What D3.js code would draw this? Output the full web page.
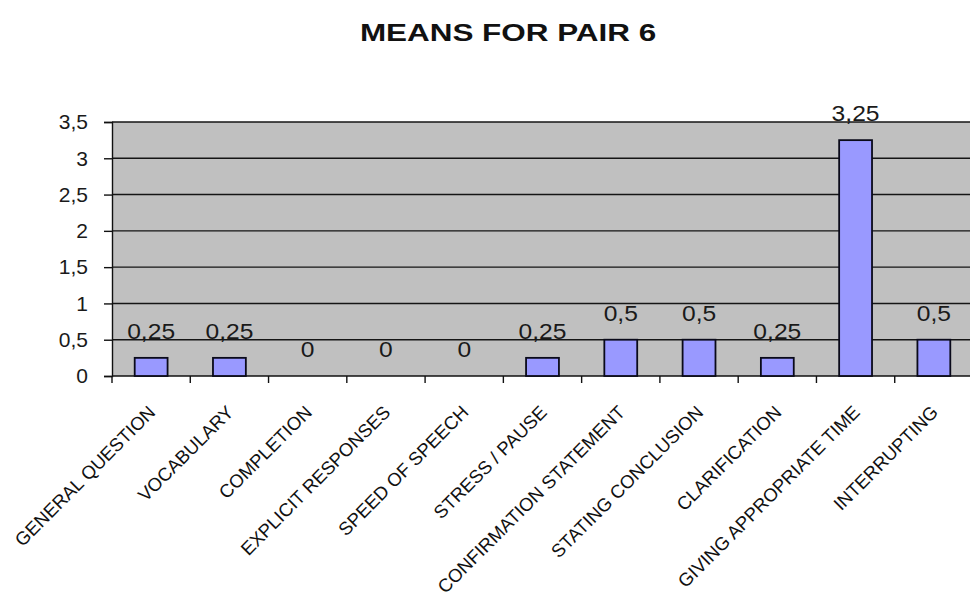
<!DOCTYPE html>
<html>
<head>
<meta charset="utf-8">
<script src="https://cdn.jsdelivr.net/npm/d3@7"></script>
<style>
  html, body { margin: 0; padding: 0; background: #fff; }
  svg { display: block; font-family: "Liberation Sans", Arial, sans-serif; }
</style>
</head>
<body>
<svg id="chart" width="970" height="614"></svg>
<script>
const title = "MEANS FOR PAIR 6";
const categories = [
  "GENERAL QUESTION", "VOCABULARY", "COMPLETION", "EXPLICIT RESPONSES",
  "SPEED OF SPEECH", "STRESS / PAUSE", "CONFIRMATION STATEMENT",
  "STATING CONCLUSION", "CLARIFICATION", "GIVING APPROPRIATE TIME", "INTERRUPTING"
];
const values = [0.25, 0.25, 0, 0, 0, 0.25, 0.5, 0.5, 0.25, 3.25, 0.5];
const yTicks = [0, 0.5, 1, 1.5, 2, 2.5, 3, 3.5];

const fmt = v => String(v).replace(".", ",");

const svg = d3.select("#chart");
const pL = 112, pR = 973, pT = 122, pB = 376;

const x = d3.scaleBand().domain(categories).range([pL, pR]).padding(0);
const y = d3.scaleLinear().domain([0, 3.5]).range([pB, pT]);

// plot background
svg.append("rect")
  .attr("x", pL).attr("y", pT)
  .attr("width", pR - pL).attr("height", pB - pT)
  .attr("fill", "#c0c0c0");

// gridlines
svg.append("g").selectAll("line").data(yTicks.filter(t => t > 0)).join("line")
  .attr("x1", pL).attr("x2", pR)
  .attr("y1", d => y(d)).attr("y2", d => y(d))
  .attr("stroke", "#151515").attr("stroke-width", 1.4);

// y axis
const yAxis = d3.axisLeft(y).tickValues(yTicks).tickFormat(fmt).tickSize(8).tickPadding(16);
const gy = svg.append("g").attr("transform", `translate(${pL},0)`).call(yAxis);
gy.select(".domain").attr("stroke", "#111").attr("stroke-width", 1.4);
gy.selectAll(".tick line").attr("stroke", "#111").attr("stroke-width", 1.4);
gy.selectAll(".tick text").attr("font-size", 21).attr("fill", "#1a1a1a")
  .attr("font-family", "'Liberation Sans', Arial, sans-serif");

// x axis (ticks at category boundaries)
const boundaries = categories.map(c => x(c)).concat([pR]);
const gx = svg.append("g");
gx.append("line").attr("x1", pL).attr("x2", pR)
  .attr("y1", pB).attr("y2", pB)
  .attr("stroke", "#111").attr("stroke-width", 1.6);
gx.selectAll("line.t").data(boundaries).join("line").attr("class", "t")
  .attr("x1", d => d).attr("x2", d => d)
  .attr("y1", pB).attr("y2", pB + 7)
  .attr("stroke", "#111").attr("stroke-width", 1.4);

const rows = values.map((v, i) => ({c: categories[i], v}));

// bars
const barFrac = 0.42;
svg.append("g").selectAll("rect").data(rows.filter(d => d.v > 0)).join("rect")
  .attr("x", d => x(d.c) + x.bandwidth() * (1 - barFrac) / 2)
  .attr("width", x.bandwidth() * barFrac)
  .attr("y", d => y(d.v))
  .attr("height", d => y(0) - y(d.v))
  .attr("fill", "#9999ff")
  .attr("stroke", "#0a0a1a")
  .attr("stroke-width", 1.8);

// value labels
svg.append("g").selectAll("text").data(rows).join("text")
  .attr("transform", d => `translate(${x(d.c) + x.bandwidth() / 2},${y(d.v) - 19}) scale(1.12,1)`)
  .attr("text-anchor", "middle")
  .attr("font-size", 22)
  .attr("fill", "#1a1a1a")
  .text(d => fmt(d.v));

// x category labels rotated
svg.append("g").selectAll("text").data(categories).join("text")
  .attr("transform", d => `translate(${x(d) + x.bandwidth() / 2 - 4},${pB + 28}) rotate(-45)`)
  .attr("text-anchor", "end")
  .attr("dy", "0.72em")
  .attr("font-size", 18.5)
  .attr("fill", "#111")
  .text(d => d);

// title
svg.append("text")
  .attr("transform", "translate(508,41) scale(1.31,1)")
  .attr("text-anchor", "middle")
  .attr("font-size", 24)
  .attr("font-weight", "bold")
  .attr("fill", "#111")
  .text(title);
</script>
</body>
</html>
